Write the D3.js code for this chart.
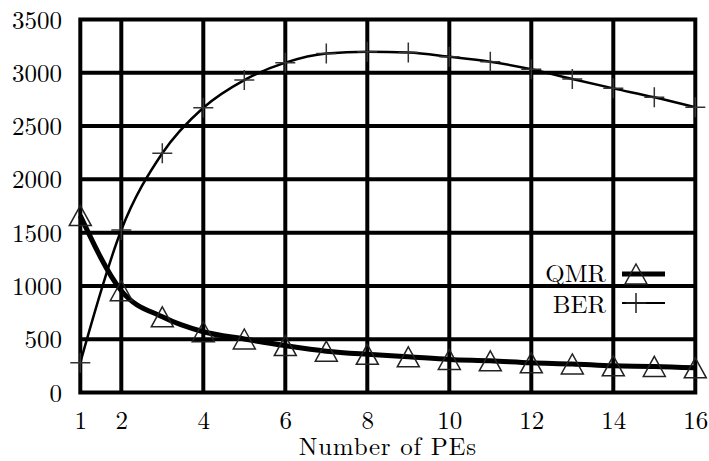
<!DOCTYPE html>
<html>
<head>
<meta charset="utf-8">
<script src="https://cdn.jsdelivr.net/npm/d3@7"></script>
<style>
  html, body { margin: 0; padding: 0; background: #fff; }
  svg { display: block; }
</style>
</head>
<body>
<svg id="chart" width="709" height="461" font-family="Latin Modern Roman"></svg>
<script>
// ---- data ----
const pes = [1, 2, 3, 4, 5, 6, 7, 8, 9, 10, 11, 12, 13, 14, 15, 16];
const qmr = [1660, 955, 710, 570, 502, 440, 388, 358, 335, 310, 297, 278, 268, 250, 245, 232];
const ber = [280, 1525, 2245, 2672, 2932, 3095, 3181, 3198, 3190, 3151, 3104, 3033, 2942, 2854, 2770, 2676];
const xTicks = [1, 2, 4, 6, 8, 10, 12, 14, 16];
const yTicks = [0, 500, 1000, 1500, 2000, 2500, 3000, 3500];
const seriesNames = ["QMR", "BER"];
const xTitle = "Number of PEs";

const FONT = "Latin Modern Roman";
const FS = 25;

// ---- layout ----
const svg = d3.select("#chart");
const x = d3.scaleLinear().domain([1, 16]).range([80.3, 695.3]);
const y = d3.scaleLinear().domain([0, 3500]).range([392.5, 19.5]);

// grid lines
const g = svg.append("g");
g.selectAll(".vg").data(xTicks.filter(t => t !== 1 && t !== 16)).enter()
  .append("line")
  .attr("x1", d => x(d)).attr("x2", d => x(d))
  .attr("y1", y(0)).attr("y2", y(3500))
  .attr("stroke", "#000").attr("stroke-width", 4);
g.selectAll(".hg").data(yTicks.filter(t => t !== 0 && t !== 3500)).enter()
  .append("line")
  .attr("x1", x(1)).attr("x2", x(16))
  .attr("y1", d => y(d)).attr("y2", d => y(d))
  .attr("stroke", "#000").attr("stroke-width", 4);

// border
g.append("rect")
  .attr("x", x(1)).attr("y", y(3500))
  .attr("width", x(16) - x(1)).attr("height", y(0) - y(3500))
  .attr("fill", "none").attr("stroke", "#000").attr("stroke-width", 4);

// axes (labels only)
const xAxis = d3.axisBottom(x).tickValues(xTicks).tickFormat(d3.format("d")).tickSize(0).tickPadding(0);
const gx = svg.append("g").attr("transform", `translate(0, ${y(0)})`).call(xAxis)
  .attr("font-family", FONT).attr("font-size", FS);
gx.select(".domain").remove();
gx.selectAll("text")
  .attr("dy", null).attr("y", 36)
  .attr("font-family", FONT).attr("font-size", FS).attr("fill", "#000");

const yAxis = d3.axisLeft(y).tickValues(yTicks).tickFormat(d3.format("d")).tickSize(0).tickPadding(0);
const gy = svg.append("g").attr("transform", `translate(62, 0)`).call(yAxis)
  .attr("font-family", FONT).attr("font-size", FS);
gy.select(".domain").remove();
gy.selectAll("text")
  .attr("x", 0).attr("dy", "0.34em")
  .attr("font-family", FONT).attr("font-size", FS).attr("fill", "#000");

svg.append("text")
  .attr("x", (x(1) + x(16)) / 2).attr("y", 455)
  .attr("text-anchor", "middle")
  .attr("font-family", FONT).attr("font-size", FS)
  .attr("letter-spacing", 0.7)
  .text(xTitle);

// lines
const line = (vals) => d3.line()
  .x((d, i) => x(pes[i])).y(d => y(d))
  .curve(d3.curveMonotoneX)(vals);

svg.append("path").attr("d", line(ber))
  .attr("fill", "none").attr("stroke", "#000").attr("stroke-width", 2.5);
svg.append("path").attr("d", line(qmr))
  .attr("fill", "none").attr("stroke", "#000").attr("stroke-width", 5);

// markers
const triPath = "M0,-10L11,10L-11,10Z";
const plusPath = "M-10,0H10M0,-10V10";
svg.selectAll(".tri").data(qmr).enter().append("path")
  .attr("transform", (d, i) => `translate(${x(pes[i])},${y(d)})`)
  .attr("d", triPath).attr("fill", "none").attr("stroke", "#222").attr("stroke-width", 1.5);
svg.selectAll(".plus").data(ber).enter().append("path")
  .attr("transform", (d, i) => `translate(${x(pes[i])},${y(d)})`)
  .attr("d", plusPath).attr("fill", "none").attr("stroke", "#333").attr("stroke-width", 1.5);

// legend
const leg = svg.append("g");
const legRows = [
  { name: seriesNames[0], ly: 274, w: 5, m: triPath, ty: 282 },
  { name: seriesNames[1], ly: 303, w: 2, m: plusPath, ty: 313 }
];
legRows.forEach(r => {
  leg.append("text").attr("x", 606).attr("y", r.ty).attr("text-anchor", "end")
    .attr("font-family", FONT).attr("font-size", FS).text(r.name);
  leg.append("line").attr("x1", 622).attr("x2", 665).attr("y1", r.ly).attr("y2", r.ly)
    .attr("stroke", "#000").attr("stroke-width", r.w);
  leg.append("path").attr("transform", `translate(636,${r.ly})`).attr("d", r.m)
    .attr("fill", "none").attr("stroke", "#222").attr("stroke-width", 1.5);
});
</script>
</body>
</html>
